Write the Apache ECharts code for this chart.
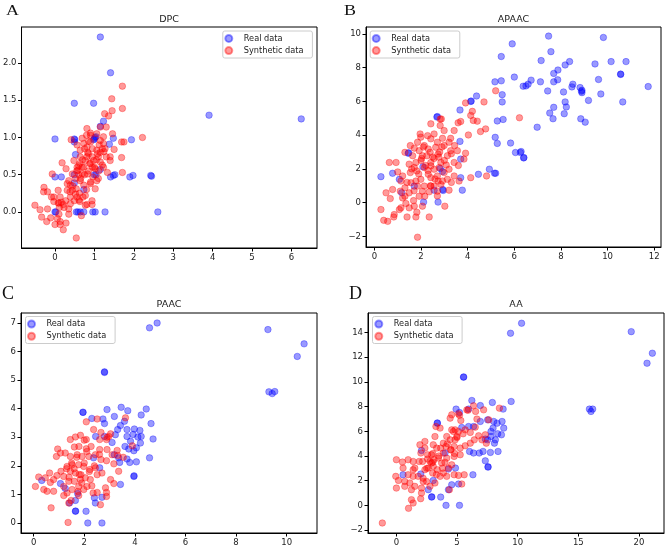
<!DOCTYPE html>
<html><head><meta charset="utf-8">
<script src="https://cdn.jsdelivr.net/npm/echarts@6/dist/echarts.min.js"></script>
<style>html,body{margin:0;padding:0;background:#fff}#c{width:666px;height:547px}</style>
</head><body><div id="c"></div>
<script>
// ---------- DATA ----------
const panelTitles = ['DPC', 'APAAC', 'PAAC', 'AA'];
const panelLetters = ['A', 'B', 'C', 'D'];
const seriesNames = ['Real data', 'Synthetic data'];

const dpcReal = [[1.15,2.35],[1.41,1.87],[0.49,1.46],[0.98,1.46],[3.91,1.30],[6.25,1.25],[1.23,1.22],[1.15,1.15],[0.0,0.98],[0.49,0.98],[0.49,0.94],[1.0,0.98],[1.04,1.01],[1.48,0.99],[1.94,0.97],[1.38,0.91],[0.52,0.77],[0.0,0.47],[0.16,0.47],[0.49,0.5],[1.0,0.5],[1.04,0.5],[1.41,0.47],[1.48,0.49],[1.52,0.5],[1.9,0.47],[1.98,0.49],[2.43,0.49],[2.45,0.48],[1.15,0.57],[0.0,0.0],[0.54,0.0],[0.64,0.0],[0.73,0.0],[0.96,0.0],[1.02,0.0],[1.27,0.0],[2.61,0.0],[0.73,0.3],[0.49,0.39],[0.58,0.0],[0.02,0.0],[1.01,1.0],[0.98,0.97],[0.5,0.97]];
const dpcSynth = [[1.71,1.69],[1.44,1.52],[1.71,1.39],[1.26,1.32],[1.36,1.29],[1.45,1.36],[1.15,1.14],[1.3,1.14],[1.46,1.05],[2.22,1.0],[1.75,0.94],[1.69,0.94],[0.9,1.06],[0.8,1.03],[0.69,0.99],[0.41,0.97],[1.06,0.83],[1.27,0.85],[1.5,0.84],[1.69,0.73],[1.71,0.53],[1.33,0.53],[1.11,0.55],[0.81,0.87],[0.85,0.78],[0.94,0.74],[0.64,0.83],[0.48,0.69],[0.18,0.66],[0.28,0.58],[-0.07,0.51],[-0.28,0.33],[-0.19,0.27],[-0.29,0.27],[-0.09,0.2],[0.08,0.29],[0.31,0.29],[0.39,0.2],[-0.51,0.09],[-0.38,0.03],[-0.34,-0.07],[-0.21,-0.13],[-0.11,-0.08],[0.0,-0.17],[0.13,-0.13],[0.13,-0.17],[0.21,-0.24],[0.28,-0.15],[0.54,-0.35],[0.67,-0.05],[-0.03,0.14],[0.08,0.12],[0.16,0.13],[0.21,0.1],[0.11,0.06],[0.23,0.06],[0.35,0.04],[0.39,0.11],[0.61,0.16],[0.63,0.14],[0.81,0.1],[0.94,0.15],[0.94,0.1],[0.77,0.22],[0.9,0.4],[1.02,0.31],[0.54,0.31],[0.44,0.29],[0.64,0.42],[0.69,0.51],[0.58,0.56],[0.73,0.6],[0.63,0.65],[0.77,0.69],[0.88,0.65],[0.98,0.69],[1.1,0.74],[1.15,0.67],[1.2,0.63],[1.0,0.6],[0.83,0.51],[0.96,0.47],[0.9,0.38],[0.73,0.36],[0.35,0.42],[0.31,0.38],[0.39,0.36],[0.52,0.45],[0.52,0.24],[0.71,0.2],[1.02,0.58],[1.15,0.8],[1.08,0.78],[0.83,0.8],[0.73,0.92],[0.9,0.94],[0.56,0.9],[0.64,0.74],[1.23,0.92],[1.24,0.81],[1.15,0.96],[1.4,0.74],[0.81,0.74],[0.69,0.6],[0.44,0.51],[0.56,0.6],[0.81,1.12],[0.9,1.03],[1.06,1.05],[1.23,1.01],[0.1,0.12],[0.27,0.15],[-0.03,0.2],[0.13,0.2],[0.1,-0.03],[0.35,-0.03],[-0.19,0.04],[0.06,-0.09],[0.77,0.09],[0.56,0.2],[0.49,0.15],[1.06,0.42],[1.23,0.6],[1.4,0.69],[1.3,0.74],[0.55,0.55],[0.6,0.5],[0.65,0.45],[0.75,0.5],[0.85,0.55],[0.95,0.6],[1.05,0.7],[0.9,0.65],[0.7,0.7],[0.6,0.62],[0.45,0.35],[0.38,0.27],[0.62,0.25],[0.8,0.3],[1.1,0.45],[1.2,0.85],[0.95,0.85],[1.12,0.9],[0.85,0.95],[0.75,0.85]];

const apaacReal = [[7.47,9.87],[9.82,9.79],[5.91,9.41],[7.57,8.95],[5.44,8.66],[7.15,8.42],[8.37,8.36],[8.18,8.16],[7.87,7.86],[10.15,8.36],[10.79,8.36],[9.46,8.22],[7.69,7.66],[10.56,7.6],[10.56,7.62],[6.0,7.44],[5.17,7.16],[5.44,7.22],[6.72,7.26],[7.12,7.16],[7.69,7.16],[7.86,7.28],[9.61,7.3],[8.51,7.02],[6.59,7.02],[6.5,6.92],[6.38,6.9],[8.47,6.86],[8.82,6.82],[8.9,6.66],[8.9,6.52],[8.88,6.6],[11.74,6.88],[7.43,6.62],[8.11,6.56],[5.48,6.4],[9.71,6.44],[4.38,6.32],[4.13,6.0],[4.15,6.02],[5.48,5.97],[8.18,5.97],[9.18,6.06],[10.65,5.97],[8.23,5.67],[7.69,5.65],[7.52,5.31],[8.14,5.27],[3.67,5.49],[2.68,5.07],[2.7,5.1],[7.66,4.97],[8.85,4.97],[9.04,4.77],[5.27,4.84],[5.52,4.93],[6.98,4.47],[5.18,3.87],[5.27,3.51],[5.84,3.53],[6.05,2.97],[6.26,2.97],[6.41,2.67],[6.4,2.65],[6.29,3.03],[3.67,3.63],[3.7,2.58],[4.46,1.68],[4.93,1.98],[5.15,1.74],[5.2,1.74],[3.7,1.48],[3.77,0.74],[2.56,0.74],[2.93,0.78],[2.95,0.72],[0.28,1.54],[0.78,1.74],[1.07,1.38],[1.45,2.93],[1.47,2.95],[2.08,2.12],[1.71,0.98],[2.11,0.03],[2.73,0.03],[1.17,0.59],[2.82,2.02],[2.92,1.84]];
const apaacSynth = [[5.2,6.63],[4.7,5.97],[6.22,5.03],[3.91,5.91],[4.13,5.17],[4.24,4.87],[4.41,4.83],[4.2,5.41],[3.7,4.81],[4.77,4.37],[4.55,4.21],[4.03,4.01],[2.87,4.96],[2.42,4.67],[2.82,4.57],[2.99,4.27],[1.96,4.07],[2.28,3.97],[3.27,3.81],[2.56,4.07],[1.64,2.78],[1.31,2.98],[1.85,3.58],[2.14,3.38],[2.42,3.78],[2.7,3.58],[2.99,3.38],[3.2,3.58],[3.44,3.38],[3.56,3.08],[3.91,2.93],[3.84,2.58],[3.42,2.38],[3.13,2.78],[2.73,2.88],[2.39,2.98],[2.06,2.78],[1.78,2.38],[1.49,2.28],[0.93,2.38],[0.64,2.38],[1.0,1.82],[1.21,1.58],[1.54,1.78],[1.82,1.88],[2.14,2.08],[2.42,2.38],[2.56,1.98],[2.31,1.68],[2.7,1.58],[2.99,1.78],[3.2,1.98],[3.42,1.58],[3.63,1.28],[4.13,1.48],[4.81,1.58],[3.13,1.38],[2.85,1.08],[2.56,0.98],[2.35,0.64],[2.06,0.68],[1.85,0.98],[1.57,1.18],[1.31,0.88],[1.11,0.68],[0.78,0.78],[0.68,0.24],[0.5,0.58],[0.28,-0.41],[0.4,-1.05],[0.57,-1.11],[0.83,-0.85],[0.85,-0.71],[1.07,-0.41],[1.14,-0.31],[1.35,-0.05],[1.4,-0.85],[1.71,-0.21],[1.82,-0.57],[1.78,-0.85],[2.06,-0.21],[2.35,-0.85],[1.85,-2.05],[3.02,-0.21],[3.2,0.74],[1.68,0.12],[1.92,0.38],[1.31,0.38],[1.49,0.58],[1.21,0.28],[2.16,0.38],[2.42,0.98],[2.7,0.68],[2.92,1.28],[2.73,1.28],[2.42,1.48],[1.99,1.38],[1.78,1.28],[1.14,1.28],[1.71,2.08],[2.02,2.62],[2.25,2.78],[2.56,2.62],[2.85,2.38],[3.08,2.23],[3.27,3.08],[2.92,3.81],[2.63,3.28],[2.31,3.18],[1.92,3.08],[1.71,3.23],[1.54,3.38],[1.99,3.88],[3.59,4.73],[3.42,4.27],[2.78,2.08],[2.42,2.18],[2.14,0.98],[1.49,-0.31],[2.0,2.5],[2.2,2.2],[2.5,2.7],[2.8,3.0],[3.0,2.5],[2.3,1.9],[1.9,1.7],[1.6,2.0],[2.6,1.4],[2.9,3.3],[3.3,2.9],[2.1,3.3],[1.4,1.2],[1.7,0.7],[2.4,1.0],[3.6,2.2],[3.3,1.2],[2.7,0.4],[2.82,4.95],[2.76,2.7]];

const paacReal = [[4.88,7.0],[4.58,6.83],[9.26,6.77],[10.69,6.27],[10.42,5.83],[2.8,5.27],[2.8,5.29],[9.3,4.59],[9.43,4.53],[9.53,4.6],[4.45,3.99],[3.46,4.05],[2.9,3.97],[3.72,3.93],[1.95,3.87],[1.95,3.88],[2.3,3.66],[2.74,3.64],[3.19,3.73],[4.25,3.78],[3.59,3.56],[2.8,3.48],[3.43,3.41],[4.64,3.48],[3.32,3.27],[3.69,3.27],[3.98,3.29],[4.2,3.24],[3.23,3.09],[3.69,3.03],[3.93,3.1],[4.12,3.01],[4.25,3.03],[4.72,2.94],[2.45,3.03],[2.8,3.03],[4.22,2.8],[3.83,2.86],[3.1,2.82],[3.61,2.68],[4.06,2.63],[3.96,2.53],[3.76,2.59],[3.19,2.39],[3.36,2.28],[3.69,2.24],[4.58,2.28],[3.4,2.12],[3.8,2.12],[4.06,2.14],[3.96,1.63],[3.97,1.65],[3.43,1.35],[0.32,1.49],[1.06,1.38],[1.25,1.21],[1.74,1.03],[1.65,0.79],[1.42,0.7],[2.4,0.88],[2.7,0.9],[2.44,0.7],[1.65,0.41],[1.66,0.42],[2.07,0.41],[2.14,0.0],[2.7,0.0],[2.37,2.28],[2.61,1.93]];
const paacSynth = [[3.63,3.68],[2.51,3.64],[2.08,3.54],[2.37,3.27],[2.66,3.17],[2.97,3.03],[3.04,3.12],[2.61,2.92],[2.88,2.92],[1.45,2.92],[1.85,3.07],[1.65,3.01],[2.08,2.92],[2.27,2.68],[1.79,2.68],[1.61,2.66],[2.08,2.6],[2.61,2.57],[2.9,2.57],[3.3,2.54],[3.32,2.36],[3.54,2.3],[3.1,2.39],[0.95,2.59],[1.06,2.45],[1.25,2.45],[1.45,2.33],[1.72,2.39],[1.91,2.33],[2.18,2.33],[2.44,2.39],[2.66,2.22],[2.88,2.18],[3.17,2.07],[3.36,1.81],[3.04,1.52],[3.17,1.38],[2.84,1.23],[2.88,1.07],[2.88,0.93],[2.64,0.64],[2.51,1.07],[2.35,1.05],[2.11,1.28],[2.24,1.52],[2.51,1.69],[2.7,1.75],[2.44,1.93],[2.22,1.87],[1.98,1.98],[1.78,2.04],[1.52,2.04],[1.32,1.98],[1.08,1.81],[0.92,1.66],[1.19,1.63],[1.45,1.81],[1.65,1.75],[1.87,1.69],[2.04,1.58],[1.85,1.52],[1.61,1.46],[1.39,1.46],[1.78,1.28],[1.98,1.17],[1.52,1.17],[1.32,1.05],[1.19,0.96],[1.48,0.79],[1.39,0.7],[1.78,0.96],[0.79,1.11],[0.79,1.52],[0.66,1.42],[0.46,1.58],[0.2,1.61],[0.53,1.11],[0.4,1.17],[0.07,1.28],[0.69,0.53],[1.36,0.02],[0.9,2.33],[0.63,1.75],[1.19,1.28],[1.6,1.9],[1.8,1.7],[2.0,2.1],[2.2,1.8],[1.7,2.3],[1.4,1.6],[1.9,1.4],[2.4,2.0],[2.6,2.4],[1.5,2.1],[2.1,2.5],[1.3,1.9],[2.3,1.3],[1.75,1.1],[2.0,2.9],[2.9,3.0],[3.9,2.7]];

const aaReal = [[10.32,14.76],[9.41,13.95],[19.36,14.08],[21.1,12.33],[20.66,11.52],[5.53,10.39],[5.55,10.41],[9.46,8.42],[6.22,8.5],[6.92,8.09],[7.91,8.34],[8.8,7.8],[5.95,7.8],[4.92,7.8],[15.91,7.8],[16.04,7.61],[16.18,7.8],[3.37,6.66],[3.38,6.68],[5.2,7.53],[7.52,6.93],[8.02,6.8],[8.3,6.66],[8.71,6.8],[6.92,6.8],[6.36,6.39],[5.95,6.39],[5.39,6.31],[7.97,6.26],[8.85,6.26],[7.8,5.99],[8.35,5.8],[8.66,5.72],[7.8,5.58],[7.52,5.31],[8.16,5.31],[8.08,5.04],[7.33,5.37],[6.03,4.37],[6.36,4.24],[6.83,4.24],[7.14,4.37],[8.38,4.37],[7.75,4.29],[7.33,3.61],[7.55,3.1],[7.56,3.12],[2.07,4.45],[4.01,4.24],[4.87,3.02],[4.29,2.94],[6.31,2.48],[0.55,2.48],[2.01,2.54],[3.04,2.02],[2.63,1.27],[2.9,0.67],[2.92,0.69],[3.65,0.67],[4.56,1.67],[4.29,1.27],[5.12,1.73],[4.09,0.0],[5.2,0.0]];
const aaSynth = [[-1.16,-1.43],[1.0,-0.24],[1.38,0.19],[1.24,0.46],[2.0,0.54],[0.0,1.4],[-0.05,2.35],[0.17,2.02],[0.55,3.02],[0.0,3.7],[0.5,3.51],[0.97,3.7],[1.38,3.56],[1.52,3.02],[0.97,2.48],[0.69,1.94],[1.11,1.81],[1.38,2.35],[1.8,2.35],[1.52,1.54],[1.24,1.27],[2.07,1.4],[2.21,1.94],[1.88,3.56],[2.02,4.24],[2.35,4.64],[2.35,5.18],[1.94,4.91],[2.57,4.1],[2.77,3.56],[3.04,3.16],[2.63,3.02],[2.99,2.62],[3.37,2.89],[3.73,3.43],[4.15,3.83],[3.87,4.24],[3.32,4.64],[3.04,4.91],[3.18,5.58],[3.87,5.04],[4.43,5.31],[4.15,5.58],[4.7,5.99],[4.84,6.12],[5.12,5.99],[4.56,6.12],[3.6,6.26],[3.26,6.39],[4.43,7.07],[4.56,7.34],[5.12,7.42],[5.81,7.74],[6.36,8.07],[6.53,7.61],[6.64,6.99],[7.19,7.74],[7.61,6.93],[8.49,7.88],[5.31,6.88],[5.67,6.12],[6.09,5.91],[6.5,6.34],[6.78,5.64],[7.33,5.72],[7.05,5.31],[7.41,5.04],[6.42,5.31],[6.09,5.04],[5.67,4.83],[5.26,4.64],[5.26,4.1],[4.76,3.97],[4.48,4.5],[4.56,3.29],[4.29,3.02],[3.87,2.62],[4.15,2.35],[4.76,2.48],[5.12,2.43],[5.59,2.48],[5.39,1.73],[4.37,1.27],[3.6,2.35],[3.18,1.81],[2.77,1.54],[2.49,1.94],[2.35,2.89],[2.16,3.56],[2.57,3.75],[2.9,4.1],[3.46,3.83],[3.65,4.64],[4.09,4.77],[4.76,4.77],[4.84,5.31],[4.98,5.58],[2.9,3.43],[3.1,3.7],[2.07,1.0],[0.69,1.54],[1.38,2.89],[3.0,3.5],[3.5,4.0],[4.0,3.5],[4.5,4.5],[2.5,3.0],[3.0,4.2],[4.2,5.0],[5.0,5.5],[3.8,3.0],[2.2,2.2],[4.8,4.2],[5.5,5.8],[3.3,2.5],[5.2,7.3],[5.9,7.7]];

const dpcXTicks = [0, 1, 2, 3, 4, 5, 6];
const dpcYTicks = [0, 0.5, 1, 1.5, 2];
const apaacXTicks = [0, 2, 4, 6, 8, 10, 12];
const apaacYTicks = [-2, 0, 2, 4, 6, 8, 10];
const paacXTicks = [0, 2, 4, 6, 8, 10];
const paacYTicks = [0, 1, 2, 3, 4, 5, 6, 7];
const aaXTicks = [0, 5, 10, 15, 20];
const aaYTicks = [-2, 0, 2, 4, 6, 8, 10, 12, 14];

// ---------- LAYOUT / STYLE ----------
const realColor = 'rgba(0,0,255,0.5)';
const synthColor = 'rgba(255,0,0,0.5)';
const fmtInt = v => (v < 0 ? '\u2212' : '') + Math.abs(v);
const fmt1 = v => (v < 0 ? '\u2212' : '') + Math.abs(v).toFixed(1);

const panels = [
  {real: dpcReal, synth: dpcSynth, xt: dpcXTicks, yt: dpcYTicks, yfmt: fmt1,
   grid: {left: 21, top: 27, width: 296, height: 221}, xr: [-0.85, 6.65], yr: [-0.485, 2.485],
   titleXY: [169, 19.7], letterXY: [6, 11], letterScaleY: 0.78, frame: [222.8, 31], leg: [224.3, 32.3]},
  {real: apaacReal, synth: apaacSynth, xt: apaacXTicks, yt: apaacYTicks, yfmt: fmtInt,
   grid: {left: 366, top: 27, width: 295, height: 220}, xr: [-0.36, 12.29], yr: [-2.63, 10.41],
   titleXY: [513.5, 19.7], letterXY: [344, 11.5], letterScaleY: 0.78, frame: [370.2, 31], leg: [371.7, 32.3]},
  {real: paacReal, synth: paacSynth, xt: paacXTicks, yt: paacYTicks, yfmt: fmtInt,
   grid: {left: 21, top: 313, width: 296, height: 220}, xr: [-0.5, 11.2], yr: [-0.35, 7.35],
   titleXY: [169, 304.3], letterXY: [2, 294], letterScaleY: 1, frame: [25.5, 316.5], leg: [27, 317.9]},
  {real: aaReal, synth: aaSynth, xt: aaXTicks, yt: aaYTicks, yfmt: fmtInt,
   grid: {left: 368, top: 313, width: 296, height: 220}, xr: [-2.34, 22.06], yr: [-2.24, 15.59],
   titleXY: [516, 304.3], letterXY: [349, 294.5], letterScaleY: 1, frame: [372.5, 316.5], leg: [374.3, 317.9]}
];

const tickFont = {fontSize: 8.5, color: '#222', fontFamily: 'DejaVu Sans', margin: 5};
function axisCfg(i, range, ticks, fmt) {
  return {
    type: 'value', gridIndex: i, min: range[0], max: range[1], scale: true,
    splitLine: {show: false},
    axisLine: {show: true, onZero: false, lineStyle: {color: '#000', width: 1}},
    axisTick: {show: true, inside: false, length: 3.5, lineStyle: {color: '#000', width: 1}, customValues: ticks},
    axisLabel: Object.assign({show: true, customValues: ticks, formatter: fmt, showMinLabel: true, showMaxLabel: true}, tickFont)
  };
}

const option = {
  animation: false,
  backgroundColor: '#fff',
  grid: panels.map(p => Object.assign({show: true, borderColor: '#000', borderWidth: 1, backgroundColor: 'transparent'}, p.grid)),
  xAxis: panels.map((p, i) => axisCfg(i, p.xr, p.xt, fmtInt)),
  yAxis: panels.map((p, i) => axisCfg(i, p.yr, p.yt, p.yfmt)),
  legend: panels.map(p => ({
    data: seriesNames, left: p.leg[0], top: p.leg[1], orient: 'vertical',
    icon: 'circle', itemWidth: 20, itemHeight: 7, itemGap: 0, padding: 0,
    selectedMode: false, z: 10,
    textStyle: {fontSize: 8.2, lineHeight: 12.2, color: '#222', fontFamily: 'DejaVu Sans'}
  })),
  series: panels.flatMap((p, i) => [
    {type: 'scatter', name: seriesNames[0], xAxisIndex: i, yAxisIndex: i, data: p.real,
     symbolSize: 6.5, itemStyle: {color: realColor, borderColor: realColor, borderWidth: 0.8}, z: 2, emphasis: {disabled: true}},
    {type: 'scatter', name: seriesNames[1], xAxisIndex: i, yAxisIndex: i, data: p.synth,
     symbolSize: 6.5, itemStyle: {color: synthColor, borderColor: synthColor, borderWidth: 0.8}, z: 3, emphasis: {disabled: true}}
  ]),
  graphic: {elements: panels.flatMap((p, i) => [
    {type: 'rect', z: 5, shape: {x: p.frame[0], y: p.frame[1], width: 89.6, height: 27, r: 2},
     style: {fill: 'rgba(255,255,255,0.8)', stroke: '#cccccc', lineWidth: 1}},
    {type: 'text', z: 6, x: p.titleXY[0], y: p.titleXY[1],
     style: {text: panelTitles[i], x: 0, y: 0, align: 'center', verticalAlign: 'middle',
             font: '9.5px "DejaVu Sans"', fill: '#222'}},
    {type: 'text', z: 6, x: p.letterXY[0], y: p.letterXY[1], scaleY: p.letterScaleY,
     style: {text: panelLetters[i], x: 0, y: 0, align: 'left', verticalAlign: 'middle',
             font: '18px "Liberation Serif"', fill: '#111'}}
  ])}
};

const chart = echarts.init(document.getElementById('c'), null, {renderer: 'canvas'});
chart.setOption(option);
</script>
</body></html>
